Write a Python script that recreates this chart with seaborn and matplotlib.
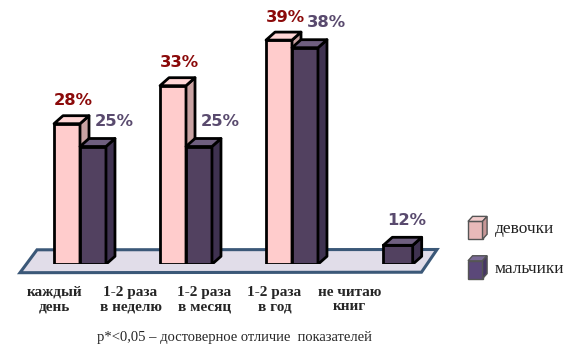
import numpy as np
import pandas as pd
import seaborn as sns
import matplotlib
matplotlib.use("Agg")
import matplotlib.pyplot as plt
from matplotlib.patches import Polygon, Patch
from matplotlib.legend_handler import HandlerBase
from matplotlib.font_manager import FontProperties

# ---------------- data ----------------
bar_groups = ["каждый день", "1-2 раза в неделю", "1-2 раза в год", "не читаю книг"]
paired_groups = ["каждый день", "1-2 раза в неделю", "1-2 раза в год"]
girls_values = [28, 33, 39]
boys_values = [25, 25, 38]
single_group = ["не читаю книг"]
single_boys_values = [12]
series = ["девочки", "мальчики"]
tick_labels = ["каждый\nдень", "1-2 раза\nв неделю", "1-2 раза\nв месяц",
               "1-2 раза\nв год", "не читаю\nкниг"]
footnote = "p*<0,05 – достоверное отличие  показателей"

# ---------------- style ----------------
girl_front, girl_top, girl_side = "#ffcccc", "#ffd6d6", "#c9a2a2"
boy_front, boy_top, boy_side = "#524160", "#6f5f80", "#3f3250"
girl_lbl, boy_lbl = "#8b0a0a", "#594a6e"

sns.set_theme(style="white")
plt.rcParams["font.family"] = ["DejaVu Sans"]

W, H = 574, 354
fig = plt.figure(figsize=(W / 100, H / 100), dpi=100)

# axes geometry (pixels): category 0 center at x=80, spacing 106 px; baseline at y=264.3
x_lo, x_hi = -0.6, 3.6
y_lo, y_hi = 9.5, 40.5
px_x, px_y = 106.0, 7.6
left_px = 80 - 0.6 * px_x
base_px = 264.3
ax = fig.add_axes([left_px / W, 1 - base_px / H,
                   (x_hi - x_lo) * px_x / W, (y_hi - y_lo) * px_y / H])
ax.patch.set_visible(False)

df_pair = pd.DataFrame({
    "group": paired_groups * 2,
    "sex": [series[0]] * 3 + [series[1]] * 3,
    "value": girls_values + boys_values,
})
df_single = pd.DataFrame({"group": single_group, "value": single_boys_values})

sns.barplot(data=df_pair, x="group", y="value", hue="sex", order=bar_groups,
            hue_order=series, palette=[girl_front, boy_front], width=0.49,
            edgecolor="black", linewidth=2, legend=False, errorbar=None,
            saturation=1, ax=ax)
sns.barplot(data=df_single, x="group", y="value", order=bar_groups,
            color=boy_front, width=0.277, edgecolor="black", linewidth=2,
            errorbar=None, saturation=1, ax=ax)

ax.set_xlim(x_lo, x_hi)
ax.set_ylim(y_lo, y_hi)
ax.set_axis_off()

# floor (decoration)
floor_px = [(20, 272.7), (37, 249.8), (437, 249.5), (421.5, 272.2)]
floor = Polygon([(x / W, 1 - y / H) for x, y in floor_px], closed=True,
                transform=fig.transFigure, facecolor="#e1dde9",
                edgecolor="#3b5878", linewidth=2.2, zorder=-5)
fig.add_artist(floor)

# 3D faces derived from each bar
dx = 9.0 / px_x
dy = 8.0 / px_y
styles = [(girl_top, girl_side, 2), (boy_top, boy_side, 3), (boy_top, boy_side, 3)]
label_offsets = [(6, 23), (21, 25), (9, 25)]
label_colors = [girl_lbl, boy_lbl, boy_lbl]
val_font = FontProperties(family="DejaVu Sans", weight="bold", size=11.8)
for ci, cont in enumerate(ax.containers[:3]):
    top_c, side_c, z = styles[ci]
    for p in cont.patches:
        h = p.get_height()
        if not np.isfinite(h) or h == 0:
            continue
        top = p.get_y() + h
        p.set_y(y_lo)
        p.set_height(top - y_lo)
        p.set_zorder(z)
        x0 = p.get_x()
        x1 = x0 + p.get_width()
        topf = Polygon([(x0, top), (x1, top), (x1 + dx, top + dy), (x0 + dx, top + dy)],
                       closed=True, facecolor=top_c, edgecolor="black",
                       linewidth=2, joinstyle="round", zorder=z + 0.1)
        side = Polygon([(x1, y_lo), (x1, top), (x1 + dx, top + dy), (x1 + dx, y_lo + dy)],
                       closed=True, facecolor=side_c, edgecolor="black",
                       linewidth=2, joinstyle="round", zorder=z + 0.1)
        ax.add_patch(side)
        ax.add_patch(topf)
        ax.annotate(f"{top:.0f}%", xy=((x0 + x1) / 2, top),
                    xytext=label_offsets[ci], textcoords="offset pixels",
                    ha="center", va="center", fontproperties=val_font,
                    color=label_colors[ci], annotation_clip=False, zorder=10)

# category labels (separate text row, as in the original)
cat_font = FontProperties(family="Liberation Serif", weight="bold", size=11)
label_cx = [54.5, 130.5, 204.5, 274.5, 349.5]
for cx, t in zip(label_cx, tick_labels):
    fig.text(cx / W, 1 - 299.5 / H, t, ha="center", va="center",
             multialignment="center", fontproperties=cat_font, linespacing=1.15)

note_font = FontProperties(family="Liberation Serif", size=10.5)
fig.text(234 / W, 1 - 338 / H, footnote, ha="center", va="center",
         fontproperties=note_font)


# legend with cube handles
class CubeHandler(HandlerBase):
    def __init__(self, front, top, side):
        super().__init__()
        self.c = (front, top, side)

    def create_artists(self, legend, orig_handle, xdescent, ydescent,
                       width, height, fontsize, trans):
        f, t, s = self.c
        x0, y0 = -xdescent, -ydescent
        fw, fh = width * 0.76, height * 0.78
        d, e = width * 0.24, height * 0.22
        kw = dict(edgecolor="#555555", linewidth=1, transform=trans)
        front = Polygon([(x0, y0), (x0 + fw, y0), (x0 + fw, y0 + fh), (x0, y0 + fh)],
                        facecolor=f, **kw)
        topp = Polygon([(x0, y0 + fh), (x0 + fw, y0 + fh), (x0 + fw + d, y0 + fh + e),
                        (x0 + d, y0 + fh + e)], facecolor=t, **kw)
        side = Polygon([(x0 + fw, y0), (x0 + fw + d, y0 + e), (x0 + fw + d, y0 + fh + e),
                        (x0 + fw, y0 + fh)], facecolor=s, **kw)
        return [front, topp, side]


h_g = Patch(facecolor="#e8b9b9")
h_b = Patch(facecolor="#5b4879")
leg_font = FontProperties(family="Liberation Serif", size=12.5)
leg = fig.legend([h_g, h_b], series,
                 handler_map={h_g: CubeHandler("#e8b9b9", "#f2cccc", "#c79797"),
                              h_b: CubeHandler("#5b4879", "#7a6a96", "#463763")},
                 loc="center left", bbox_to_anchor=(468 / W, 1 - 247.5 / H),
                 bbox_transform=fig.transFigure, frameon=False, prop=leg_font,
                 handlelength=1.1, handleheight=1.65, handletextpad=0.45,
                 labelspacing=0.95, borderpad=0, borderaxespad=0)
for t in leg.get_texts():
    t.set_color("#222222")

fig.savefig("out.png", dpi=100)
